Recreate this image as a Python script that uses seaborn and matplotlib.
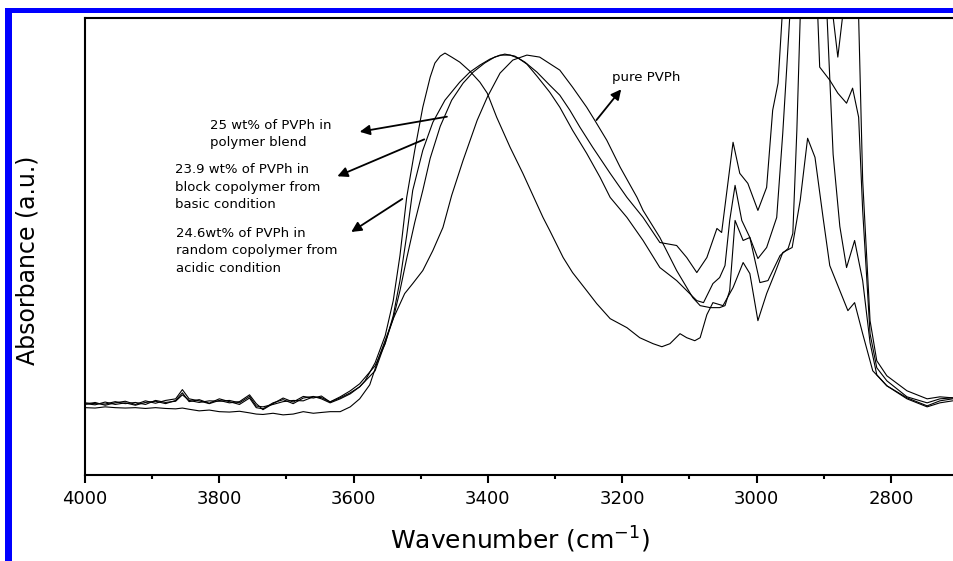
import seaborn as sns
import matplotlib.pyplot as plt
import pandas as pd
from matplotlib.patches import Rectangle
from matplotlib.ticker import MultipleLocator

sns.set_theme(style="white")
plt.rcParams['font.family'] = ['DejaVu Sans']
plt.rcParams['text.color'] = 'black'
plt.rcParams['axes.labelcolor'] = 'black'
plt.rcParams['xtick.color'] = 'black'

# noisy baseline region, shared wavenumber grid (cm-1)
base_wn = [4000, 3985, 3970, 3955, 3940, 3925, 3910, 3895, 3880, 3865, 3855, 3845, 3830,
           3815, 3800, 3785, 3770, 3755, 3745, 3735, 3720, 3705, 3690, 3675, 3660, 3648]

# 24.6 wt% PVPh, random copolymer (acidic) - narrow band at ~3460
c1_base = [0.178, 0.175, 0.182, 0.176, 0.180, 0.174, 0.181, 0.184, 0.178, 0.186, 0.205, 0.183, 0.188,
           0.179, 0.190, 0.183, 0.176, 0.192, 0.168, 0.165, 0.180, 0.188, 0.178, 0.192, 0.196, 0.190]
c1_wn = [3635, 3620, 3605, 3591, 3583, 3568, 3553, 3541, 3531, 3521, 3509, 3497, 3486, 3479, 3471,
         3464, 3454, 3442, 3427, 3412, 3401, 3387, 3367, 3348, 3333, 3318, 3308, 3288, 3274, 3253,
         3238, 3218, 3193, 3174, 3154, 3141, 3129, 3114, 3104, 3092, 3084, 3074, 3065, 3050, 3035,
         3020, 3010, 2998, 2985, 2973, 2961, 2947, 2935, 2924, 2913, 2901, 2891, 2876, 2864, 2854,
         2842, 2827, 2806, 2776, 2746, 2727, 2708]
c1_abs = [0.180, 0.190, 0.2025, 0.220, 0.235, 0.280, 0.3475, 0.435, 0.5475, 0.6925, 0.810, 0.9175,
          0.9925, 1.0275, 1.045, 1.0525, 1.0425, 1.030, 1.0075, 0.980, 0.9525, 0.8925, 0.8175, 0.7525,
          0.6975, 0.6425, 0.610, 0.5425, 0.505, 0.460, 0.4275, 0.390, 0.3675, 0.3425, 0.3275, 0.320,
          0.3275, 0.3525, 0.3425, 0.335, 0.3425, 0.400, 0.430, 0.4225, 0.4675, 0.530, 0.5025, 0.385,
          0.4525, 0.5025, 0.555, 0.5675, 0.685, 0.840, 0.7925, 0.6425, 0.5225, 0.460, 0.410, 0.430,
          0.3525, 0.260, 0.2225, 0.1925, 0.1725, 0.185, 0.190]

# 23.9 wt% PVPh, block copolymer (basic)
c2_base = [0.180, 0.178, 0.177, 0.183, 0.178, 0.181, 0.176, 0.186, 0.181, 0.184, 0.200, 0.186, 0.181,
           0.185, 0.184, 0.186, 0.180, 0.196, 0.172, 0.170, 0.176, 0.183, 0.186, 0.185, 0.195, 0.193]
c2_wn = [3635, 3620, 3605, 3591, 3568, 3553, 3541, 3531, 3521, 3512, 3497, 3482, 3464, 3442, 3427,
         3412, 3397, 3382, 3367, 3355, 3342, 3327, 3308, 3293, 3274, 3253, 3233, 3218, 3193, 3169,
         3144, 3119, 3089, 3079, 3065, 3055, 3047, 3040, 3032, 3022, 3010, 2998, 2985, 2970, 2961,
         2955, 2950, 2935, 2918, 2906, 2891, 2879, 2866, 2857, 2848, 2842, 2831, 2821, 2806, 2776,
         2746, 2727, 2708]
c2_abs = [0.1825, 0.195, 0.210, 0.2275, 0.2725, 0.3275, 0.3975, 0.485, 0.5975, 0.710, 0.810, 0.880,
          0.935, 0.980, 1.005, 1.0225, 1.0375, 1.0475, 1.0475, 1.040, 1.025, 0.995, 0.955, 0.9175,
          0.860, 0.8025, 0.7425, 0.6925, 0.6425, 0.585, 0.5175, 0.485, 0.435, 0.430, 0.4775, 0.4925,
          0.5225, 0.635, 0.7225, 0.635, 0.5925, 0.540, 0.5675, 0.6425, 0.8525, 1.0175, 1.160, 1.550,
          1.550, 1.0175, 0.985, 0.9525, 0.9275, 0.965, 0.8925, 0.660, 0.3525, 0.2675, 0.235, 0.195,
          0.180, 0.190, 0.1925]

# 25 wt% PVPh, polymer blend
c3_base = [0.176, 0.181, 0.174, 0.180, 0.184, 0.176, 0.185, 0.179, 0.186, 0.190, 0.213, 0.190, 0.185,
           0.178, 0.186, 0.180, 0.183, 0.200, 0.178, 0.163, 0.178, 0.192, 0.182, 0.196, 0.192, 0.197]
c3_wn = [3635, 3620, 3605, 3591, 3568, 3553, 3541, 3531, 3521, 3509, 3497, 3486, 3471, 3454, 3437,
         3422, 3405, 3390, 3375, 3360, 3345, 3327, 3308, 3293, 3278, 3263, 3244, 3218, 3193, 3169,
         3144, 3119, 3104, 3089, 3074, 3059, 3052, 3035, 3025, 3013, 2998, 2985, 2976, 2968, 2962,
         2940, 2910, 2886, 2879, 2872, 2860, 2848, 2842, 2831, 2821, 2806, 2776, 2746, 2727, 2708]
c3_abs = [0.182, 0.1925, 0.205, 0.220, 0.260, 0.330, 0.390, 0.460, 0.540, 0.630, 0.710, 0.790,
          0.870, 0.935, 0.9775, 1.005, 1.0275, 1.0425, 1.050, 1.045, 1.030, 1.005, 0.9725, 0.9475,
          0.910, 0.8675, 0.8175, 0.7525, 0.6925, 0.6425, 0.580, 0.5725, 0.5425, 0.505, 0.5425, 0.615,
          0.605, 0.830, 0.7525, 0.7275, 0.660, 0.7175, 0.910, 0.9775, 1.1425, 1.700, 1.700, 1.1425,
          1.0425, 1.1425, 1.500, 1.1425, 0.735, 0.385, 0.285, 0.2475, 0.210, 0.190, 0.195, 0.1925]

# pure PVPh
c4_base = [0.168, 0.167, 0.170, 0.168, 0.167, 0.168, 0.166, 0.168, 0.166, 0.165, 0.167, 0.164, 0.160,
           0.162, 0.158, 0.157, 0.159, 0.155, 0.152, 0.151, 0.154, 0.150, 0.152, 0.158, 0.154, 0.156]
c4_wn = [3635, 3620, 3605, 3591, 3576, 3561, 3541, 3524, 3512, 3497, 3482, 3467, 3454, 3437, 3416,
         3401, 3382, 3363, 3342, 3323, 3293, 3274, 3253, 3241, 3223, 3203, 3178, 3169, 3144, 3119,
         3095, 3084, 3069, 3055, 3047, 3040, 3032, 3020, 3010, 2995, 2983, 2965, 2953, 2946, 2940,
         2935, 2925, 2910, 2895, 2886, 2876, 2866, 2854, 2842, 2831, 2821, 2806, 2776, 2746, 2727,
         2708]
c4_abs = [0.158, 0.158, 0.170, 0.190, 0.225, 0.300, 0.390, 0.4525, 0.4775, 0.510, 0.560, 0.6175,
          0.6975, 0.785, 0.885, 0.9425, 1.0025, 1.035, 1.0475, 1.0425, 1.010, 0.9675, 0.9175, 0.885,
          0.835, 0.7675, 0.6925, 0.660, 0.5925, 0.510, 0.4425, 0.4225, 0.4175, 0.4175, 0.4225, 0.460,
          0.635, 0.585, 0.5925, 0.480, 0.485, 0.5475, 0.565, 0.6025, 0.860, 1.1425, 1.600, 1.600,
          1.1425, 0.800, 0.620, 0.5175, 0.585, 0.485, 0.330, 0.250, 0.2225, 0.190, 0.170, 0.180, 0.185]

series = {
    "24.6wt% random copolymer": (c1_base, c1_wn, c1_abs),
    "23.9 wt% block copolymer": (c2_base, c2_wn, c2_abs),
    "25 wt% polymer blend": (c3_base, c3_wn, c3_abs),
    "pure PVPh": (c4_base, c4_wn, c4_abs),
}

rows = []
for name, (base, wn, ab) in series.items():
    for x, y in zip(base_wn + wn, base + ab):
        rows.append({"Wavenumber": x, "Absorbance": y, "Sample": name})
df = pd.DataFrame(rows)

fig = plt.figure(figsize=(9.54, 5.61), dpi=100)
ax = fig.add_axes([0.0891, 0.1533, 0.9109, 0.8146])
sns.lineplot(data=df, x="Wavenumber", y="Absorbance", units="Sample", estimator=None,
             sort=False, color="black", linewidth=0.8, ax=ax)

ax.set_xlim(4000, 2706)
ax.set_ylim(0, 1.14)
ax.xaxis.set_major_locator(MultipleLocator(200))
ax.xaxis.set_minor_locator(MultipleLocator(100))
ax.set_yticks([])
ax.tick_params(axis="x", which="major", bottom=True, direction="out", length=6, width=1.5,
               labelsize=13, pad=5, color="black", labelcolor="black")
ax.tick_params(axis="x", which="minor", bottom=True, direction="out", length=3, width=1.5,
               color="black")
for side in ["left", "top", "bottom"]:
    ax.spines[side].set_color("black")
    ax.spines[side].set_linewidth(1.5)
ax.spines["right"].set_visible(False)

ax.set_xlabel(r"Wavenumber (cm$^{-1}$)", fontsize=18, labelpad=12, color="black")
ax.set_ylabel("Absorbance (a.u.)", fontsize=17, color="black")
ax.yaxis.set_label_coords(-0.052, 0.47)

# annotations with arrows
arrow = dict(arrowstyle="-|>", color="black", lw=1.3, mutation_scale=15)
ax.annotate("", xy=(3595, 0.855), xytext=(3457, 0.895), arrowprops=arrow)
ax.annotate("", xy=(3628, 0.7425), xytext=(3491, 0.84), arrowprops=arrow)
ax.annotate("", xy=(3607, 0.6025), xytext=(3524, 0.6925), arrowprops=arrow)
ax.annotate("", xy=(3199, 0.9675), xytext=(3241, 0.88), arrowprops=arrow)

ax.text(3814, 0.851, "25 wt% of PVPh in\npolymer blend", fontsize=9.5, ha="left", va="center",
        linespacing=1.45, color="black")
ax.text(3866, 0.7175, "23.9 wt% of PVPh in\nblock copolymer from\nbasic condition", fontsize=9.5,
        ha="left", va="center", linespacing=1.45, color="black")
ax.text(3864, 0.56, "24.6wt% of PVPh in\nrandom copolymer from\nacidic condition", fontsize=9.5,
        ha="left", va="center", linespacing=1.45, color="black")
ax.text(3215, 0.9925, "pure PVPh", fontsize=9.5, ha="left", va="center", color="black")

# blue frame on the top and left of the page
fig.add_artist(Rectangle((5 / 954, 548 / 561), 1, 5 / 561, transform=fig.transFigure,
                         color="#0000ff", lw=0))
fig.add_artist(Rectangle((5 / 954, 0), 7 / 954, 553 / 561, transform=fig.transFigure,
                         color="#0000ff", lw=0))

fig.savefig("out.png", dpi=100)
